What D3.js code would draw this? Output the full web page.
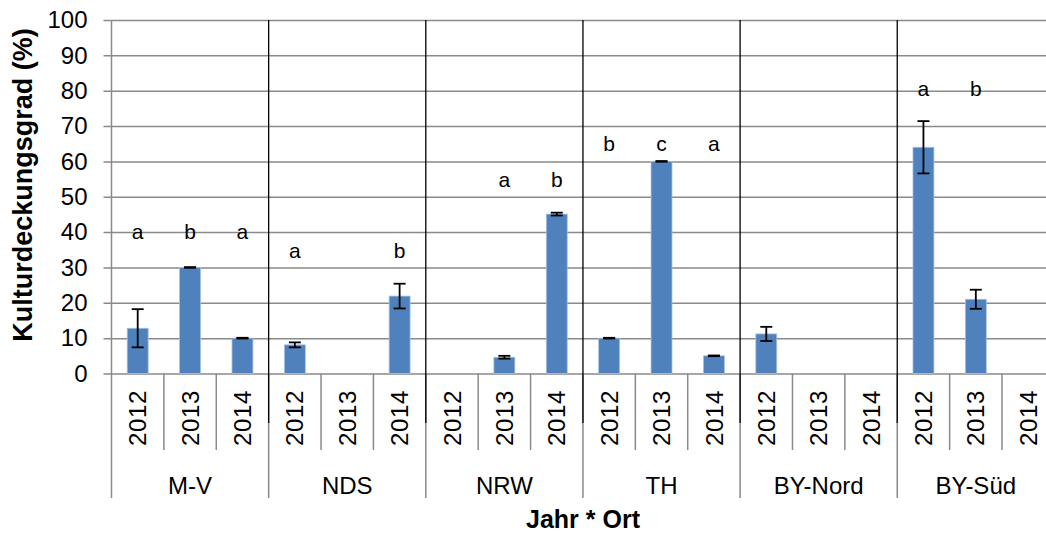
<!DOCTYPE html>
<html>
<head>
<meta charset="utf-8">
<script src="https://cdn.jsdelivr.net/npm/d3@7"></script>
<style>
  body { margin: 0; background: #fff; }
  text { font-family: "Liberation Sans", Arial, sans-serif; fill: #000; }
</style>
</head>
<body>
<div class="chart"></div>
<script>
// chart data
var groups = ["M-V", "NDS", "NRW", "TH", "BY-Nord", "BY-Süd"];
var years = ["2012", "2013", "2014"];
// one value per group*year, in the order of groups then years (null = no bar)
var means = [12.8, 30, 10, 8.1, null, 21.9, null, 4.6, 45.1, 10, 60, 5, 11.2, null, null, 64, 21, null];
var errors = [5.4, 0.1, 0.1, 0.7, null, 3.5, null, 0.4, 0.4, 0.1, 0.1, 0.1, 2, null, null, 7.4, 2.7, null];
var letters = ["a", "b", "a", "a", null, "b", null, "a", "b", "b", "c", "a", null, null, null, "a", "b", null];
// height (in %) where the letters of each group sit
var letterLevels = [38, 32.6, 52.7, 62.9, null, 78.4];
var yTicks = [0, 10, 20, 30, 40, 50, 60, 70, 80, 90, 100];

var config = {
    width: 1046,
    height: 533,
    left: 111.5,
    top: 20,
    bottom: 373.5,
    groupWidth: 157.15
};

var translate = (x, y) => "translate(" + x + "," + y + ")";

var rows = [];
groups.forEach((g, gi) => {
    years.forEach((yr, yi) => {
        var i = gi * years.length + yi;
        rows.push({ key: g + "|" + yr, group: g, gi: gi, year: yr, mean: means[i], err: errors[i], letter: letters[i] });
    });
});

var xScale = d3.scaleBand()
    .domain(rows.map(d => d.key))
    .range([config.left, config.left + config.groupWidth * groups.length])
    .paddingInner(0.6)
    .paddingOuter(0.3);

var xCat = d3.scaleBand()
    .domain(rows.map(d => d.key))
    .range([config.left, config.left + config.groupWidth * groups.length]);

var yScale = d3.scaleLinear()
    .domain([0, 100])
    .range([config.bottom, config.top]);

var svg = d3.select(".chart").append("svg")
    .attr("width", config.width)
    .attr("height", config.height);

var grid = "#8a8a8a";

// gridlines with outside ticks
var yAxis = d3.axisLeft(yScale)
    .tickValues(yTicks)
    .tickSize(-(config.groupWidth * groups.length) - 8)
    .tickSizeOuter(0)
    .tickPadding(17);

var yg = svg.append("g")
    .attr("transform", translate(config.left - 8, 0))
    .call(yAxis);
yg.select(".domain").remove();
yg.selectAll(".tick line")
    .attr("stroke", grid)
    .attr("stroke-width", 1.5);
yg.selectAll(".tick text")
    .attr("x", -16)
    .attr("font-size", "24px")
    .attr("font-family", "Liberation Sans, Arial, sans-serif");

// left axis line, runs down through the category labels
svg.append("line")
    .attr("x1", config.left).attr("x2", config.left)
    .attr("y1", config.top).attr("y2", 498)
    .attr("stroke", grid).attr("stroke-width", 1.5);

// year separators below the axis
svg.selectAll("line.ysep")
    .data(rows.filter((d, i) => i % 3 !== 0))
    .enter().append("line")
    .attr("class", "ysep")
    .attr("x1", d => xCat(d.key)).attr("x2", d => xCat(d.key))
    .attr("y1", config.bottom).attr("y2", 450)
    .attr("stroke", grid).attr("stroke-width", 1.5);

// group separators below the axis
svg.selectAll("line.gsep")
    .data(groups.slice(1))
    .enter().append("line")
    .attr("class", "gsep")
    .attr("x1", (d, i) => config.left + config.groupWidth * (i + 1))
    .attr("x2", (d, i) => config.left + config.groupWidth * (i + 1))
    .attr("y1", config.bottom).attr("y2", 498)
    .attr("stroke", grid).attr("stroke-width", 1.5);

// black separators between groups inside the plot
svg.selectAll("line.bsep")
    .data(groups.slice(1))
    .enter().append("line")
    .attr("class", "bsep")
    .attr("x1", (d, i) => config.left + config.groupWidth * (i + 1))
    .attr("x2", (d, i) => config.left + config.groupWidth * (i + 1))
    .attr("y1", config.top).attr("y2", 423)
    .attr("stroke", "#000").attr("stroke-width", 1.3);

// bars
var withData = rows.filter(d => d.mean != null);
svg.selectAll("rect.bar")
    .data(withData)
    .enter().append("rect")
    .attr("class", "bar")
    .attr("x", d => xScale(d.key))
    .attr("width", xScale.bandwidth())
    .attr("y", d => yScale(d.mean))
    .attr("height", d => yScale(0) - yScale(d.mean))
    .attr("fill", "#4f81bd")
    .attr("stroke", "#a9c1e0")
    .attr("stroke-width", 0.8);

// error bars
var eb = svg.selectAll("g.err")
    .data(withData)
    .enter().append("g")
    .attr("class", "err")
    .attr("transform", d => translate(xScale(d.key) + xScale.bandwidth() / 2, 0));
eb.append("line")
    .attr("y1", d => yScale(d.mean + d.err))
    .attr("y2", d => yScale(d.mean - d.err))
    .attr("stroke", "#000").attr("stroke-width", 1.8);
eb.append("line")
    .attr("x1", -6).attr("x2", 6)
    .attr("y1", d => yScale(d.mean + d.err))
    .attr("y2", d => yScale(d.mean + d.err))
    .attr("stroke", "#000").attr("stroke-width", 1.8);
eb.append("line")
    .attr("x1", -6).attr("x2", 6)
    .attr("y1", d => yScale(d.mean - d.err))
    .attr("y2", d => yScale(d.mean - d.err))
    .attr("stroke", "#000").attr("stroke-width", 1.8);

// significance letters
svg.selectAll("text.letter")
    .data(rows.filter(d => d.letter))
    .enter().append("text")
    .attr("class", "letter")
    .attr("x", d => xCat(d.key) + xCat.bandwidth() / 2)
    .attr("y", d => yScale(letterLevels[d.gi]))
    .attr("text-anchor", "middle")
    .attr("font-size", "21px")
    .text(d => d.letter);

// year labels (rotated)
svg.selectAll("text.year")
    .data(rows)
    .enter().append("text")
    .attr("class", "year")
    .attr("transform", d => translate(xCat(d.key) + xCat.bandwidth() / 2, 418) + " rotate(-90)")
    .attr("text-anchor", "middle")
    .attr("dy", "0.36em")
    .attr("font-size", "24px")
    .attr("letter-spacing", "0.6px")
    .text(d => d.year);

// group labels
svg.selectAll("text.group")
    .data(groups)
    .enter().append("text")
    .attr("class", "group")
    .attr("x", (d, i) => config.left + config.groupWidth * (i + 0.5))
    .attr("y", 485)
    .attr("dy", "0.36em")
    .attr("text-anchor", "middle")
    .attr("font-size", "24px")
    .text(d => d);

// axis titles
svg.append("text")
    .attr("x", 583).attr("y", 519)
    .attr("dy", "0.36em")
    .attr("text-anchor", "middle")
    .attr("font-size", "25px")
    .attr("font-weight", "bold")
    .text("Jahr * Ort");

svg.append("text")
    .attr("transform", translate(22, 185) + " rotate(-90)")
    .attr("dy", "0.36em")
    .attr("text-anchor", "middle")
    .attr("font-size", "27px")
    .attr("font-weight", "bold")
    .text("Kulturdeckungsgrad (%)");
</script>
</body>
</html>
